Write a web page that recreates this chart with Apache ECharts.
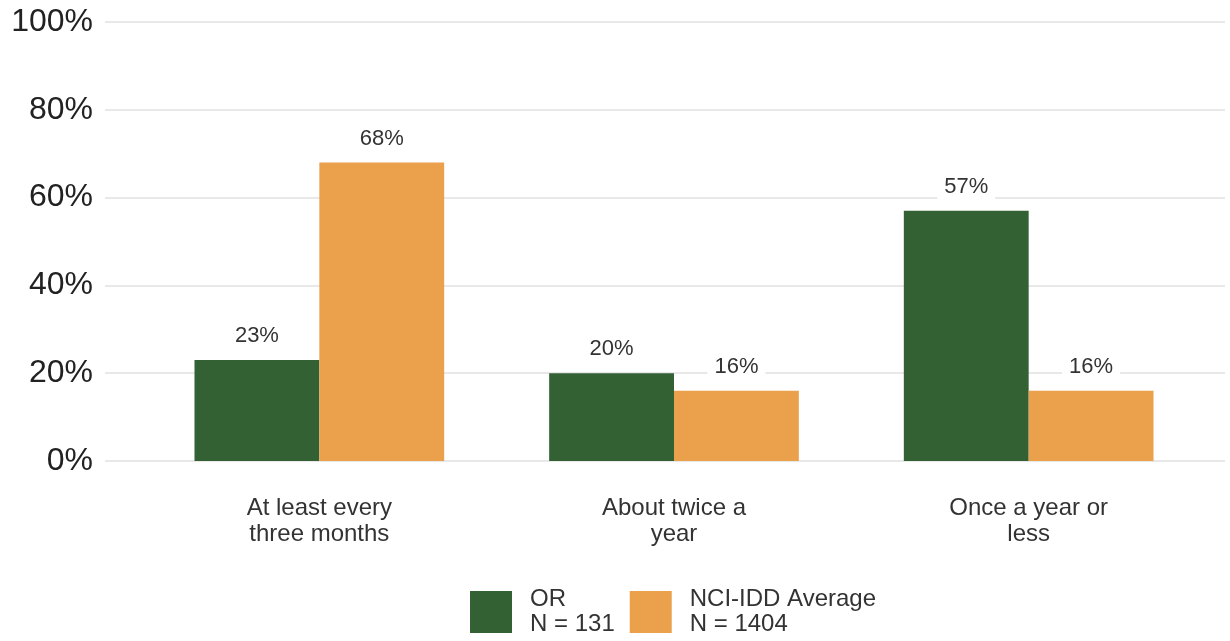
<!DOCTYPE html>
<html>
<head>
<meta charset="utf-8">
<script src="https://cdn.jsdelivr.net/npm/echarts@6/dist/echarts.min.js"></script>
<style>
  html, body { margin: 0; padding: 0; background: #fff; }
  #chart { width: 1230px; height: 641px; }
</style>
</head>
<body>
<div id="chart"></div>
<script>
// data
var categories = ['At least every\nthree months', 'About twice a\nyear', 'Once a year or\nless']
var orValues = [23, 20, 57]
var nciValues = [68, 16, 16]
var seriesNames = ['OR', 'NCI-IDD Average']
var seriesN = ['N = 131', 'N = 1404']
var yTicks = [0, 20, 40, 60, 80, 100]

var font = '"Liberation Sans", Arial, sans-serif'

let myChart = echarts.init(document.getElementById('chart'))

let barLabel = {
  show: true,
  position: 'top',
  distance: 10,
  formatter: '{c}%',
  fontFamily: font,
  fontSize: 22,
  color: '#333',
  backgroundColor: '#fff',
  padding: [3, 7]
}

myChart.setOption({
  animation: false,
  legend: {
    top: 587,
    left: 470,
    padding: 0,
    itemWidth: 42,
    itemHeight: 42,
    itemGap: 15,
    icon: 'rect',
    data: seriesNames,
    formatter: function (name) {
      return name + '\n' + seriesN[seriesNames.indexOf(name)]
    },
    textStyle: { fontFamily: font, fontSize: 24, color: '#333', lineHeight: 25, padding: [0, 0, 0, 13] }
  },
  grid: [
    // background grid: only for the y labels and long gridlines
    { left: 105, right: 5, top: 22, bottom: 180 },
    // bars
    { left: 142, right: 24, top: 22, bottom: 180 }
  ],
  xAxis: [
    { gridIndex: 0, type: 'value', show: false, min: 0, max: 1 },
    {
      gridIndex: 1,
      type: 'category',
      data: categories,
      axisLine: { show: false },
      axisTick: { show: false },
      axisLabel: {
        margin: 34,
        fontFamily: font,
        fontSize: 24,
        color: '#333',
        lineHeight: 26
      }
    }
  ],
  yAxis: [
    {
      gridIndex: 0,
      type: 'value',
      min: yTicks[0],
      max: yTicks[yTicks.length - 1],
      interval: 20,
      axisLine: { show: false },
      axisTick: { show: false },
      axisLabel: {
        formatter: '{value}%',
        margin: 12,
        fontFamily: font,
        fontSize: 32,
        color: '#222'
      },
      splitLine: { lineStyle: { color: '#e8e8e8', width: 2 } }
    },
    {
      gridIndex: 1,
      type: 'value',
      min: yTicks[0],
      max: yTicks[yTicks.length - 1],
      show: false,
      splitLine: { show: false }
    }
  ],
  series: [
    {
      name: seriesNames[0],
      type: 'bar',
      xAxisIndex: 1,
      yAxisIndex: 1,
      data: orValues,
      barGap: '0%',
      barCategoryGap: '29.6%',
      itemStyle: { color: '#336133' },
      label: barLabel
    },
    {
      name: seriesNames[1],
      type: 'bar',
      xAxisIndex: 1,
      yAxisIndex: 1,
      data: nciValues,
      barGap: '0%',
      barCategoryGap: '29.6%',
      itemStyle: { color: '#eba04c' },
      label: barLabel
    }
  ]
})
</script>
</body>
</html>
